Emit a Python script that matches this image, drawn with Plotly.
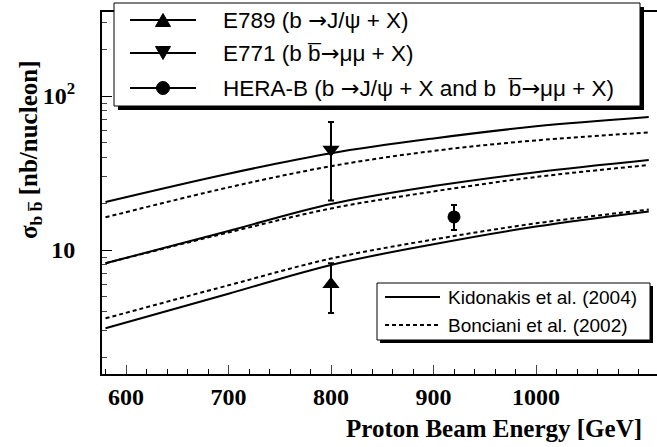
import plotly.graph_objects as go

# ---------------- data ----------------
energy = [580, 700, 800, 900, 1000, 1110]
kid_high = [20.5, 31.3, 42.5, 53, 63.5, 73]
bon_high = [16.3, 25.5, 35, 44, 51.5, 58]
kid_mid = [8.2, 13.3, 19.9, 26, 32, 38.4]
bon_mid = [8.2, 13.0, 18.6, 24, 29.8, 35.6]
kid_low = [3.1, 5.2, 8.0, 10.9, 14.2, 17.8]
bon_low = [3.6, 5.9, 8.8, 11.7, 14.9, 18.3]

e789_x, e789_y, e789_up, e789_dn = [800], [6.0], [2.2], [2.1]
e771_x, e771_y, e771_up, e771_dn = [800], [45.0], [22.8], [24.0]
herab_x, herab_y, herab_up, herab_dn = [920], [16.4], [3.2], [2.9]

ARW = "<span style='font-family:DejaVu Sans'>\u2192</span>"
exp_labels = ["E789 (b " + ARW + "J/\u03c8 + X)",
              "E771 (b b\u0305" + ARW + "\u03bc\u03bc + X)",
              "HERA-B (b " + ARW + "J/\u03c8 + X and b  b\u0305" + ARW + "\u03bc\u03bc + X)"]
theory_labels = ["Kidonakis et al. (2004)", "Bonciani et al. (2002)"]
x_ticks = [600, 700, 800, 900, 1000]
y_major = [10, 100]
y_major_text = ["10", "10<sup>2</sup>"]
y_minor = [2, 3, 4, 5, 6, 7, 8, 9, 20, 30, 40, 50, 60, 70, 80, 90, 200, 300]

# ---------------- layout geometry (pixels) ----------------
W, H = 657, 447
L, R, T, B = 102, 0, 12, 73
PW, PH = W - L - R, H - T - B

def px(x):
    return (x - L) / PW

def py(y):
    return (H - B - y) / PH

fig = go.Figure()

line_w = 2
for ys in (kid_high, kid_mid, kid_low):
    fig.add_trace(go.Scatter(x=energy, y=ys, mode="lines", line_shape="spline",
                             line=dict(color="black", width=line_w), showlegend=False))
for ys in (bon_high, bon_mid, bon_low):
    fig.add_trace(go.Scatter(x=energy, y=ys, mode="lines", line_shape="spline",
                             line=dict(color="black", width=line_w, dash="4px,3px"),
                             showlegend=False))

def point(xs, ys, up, dn, sym, size):
    fig.add_trace(go.Scatter(
        x=xs, y=ys, mode="markers",
        marker=dict(symbol=sym, size=size, color="black"),
        error_y=dict(type="data", symmetric=False, array=up, arrayminus=dn,
                     color="black", thickness=2, width=3),
        showlegend=False))

point(e789_x, e789_y, e789_up, e789_dn, "triangle-up", 15)
point(e771_x, e771_y, e771_up, e771_dn, "triangle-down", 15)
point(herab_x, herab_y, herab_up, herab_dn, "circle", 13)

shapes = []
annotations = []

def box(x0, y0, x1, y1, sh):
    shapes.append(dict(type="rect", xref="paper", yref="paper",
                       x0=px(x0 + sh), x1=px(x1 + sh), y0=py(y1 + sh), y1=py(y0 + sh),
                       fillcolor="black", line=dict(width=0), layer="above"))
    shapes.append(dict(type="rect", xref="paper", yref="paper",
                       x0=px(x0), x1=px(x1), y0=py(y1), y1=py(y0),
                       fillcolor="white", line=dict(color="black", width=1), layer="above"))

box(114, 3, 640, 106, 4)
box(377, 283, 650, 340, 3)

# legend 1 entries
leg1_y = [20, 53, 88]
mx = 163
for yy, lab in zip(leg1_y, exp_labels):
    shapes.append(dict(type="line", xref="paper", yref="paper",
                       x0=px(130), x1=px(196), y0=py(yy), y1=py(yy),
                       line=dict(color="black", width=2), layer="above"))
    annotations.append(dict(xref="paper", yref="paper", x=px(221), y=py(yy),
                            xanchor="left", yanchor="middle", showarrow=False, text=lab,
                            font=dict(family="Liberation Sans", size=22.5, color="black")))

def tri(cx, cy, up):
    h = 6.5
    w = 7.5
    if up:
        pts = [(cx - w, cy + h), (cx + w, cy + h), (cx, cy - h)]
    else:
        pts = [(cx - w, cy - h), (cx + w, cy - h), (cx, cy + h)]
    path = "M " + " L ".join(f"{px(a):.5f},{py(b):.5f}" for a, b in pts) + " Z"
    shapes.append(dict(type="path", xref="paper", yref="paper", path=path,
                       fillcolor="black", line=dict(color="black", width=1), layer="above"))

tri(mx, leg1_y[0], True)
tri(mx, leg1_y[1], False)
r = 6.5
shapes.append(dict(type="circle", xref="paper", yref="paper",
                   x0=px(mx - r), x1=px(mx + r), y0=py(leg1_y[2] + r), y1=py(leg1_y[2] - r),
                   fillcolor="black", line=dict(color="black", width=1), layer="above"))

# legend 2 entries
leg2_y = [297, 325]
for yy, lab, dash in zip(leg2_y, theory_labels, ["solid", "4px,3px"]):
    shapes.append(dict(type="line", xref="paper", yref="paper",
                       x0=px(385), x1=px(440), y0=py(yy), y1=py(yy),
                       line=dict(color="black", width=2, dash=dash), layer="above"))
    annotations.append(dict(xref="paper", yref="paper", x=px(446), y=py(yy),
                            xanchor="left", yanchor="middle", showarrow=False, text=lab,
                            font=dict(family="Liberation Sans", size=19, color="black")))

# axis titles
annotations.append(dict(xref="paper", yref="paper", x=px(494), y=py(428),
                        xanchor="center", yanchor="middle", showarrow=False,
                        text="<b>Proton Beam Energy [GeV]</b>",
                        font=dict(family="Liberation Serif", size=25, color="black")))
annotations.append(dict(xref="paper", yref="paper", x=px(30), y=py(150),
                        xanchor="center", yanchor="middle", showarrow=False, textangle=-90,
                        text="<b>\u03c3<sub>b b\u0305</sub> [nb/nucleon]</b>",
                        font=dict(family="Liberation Serif", size=25, color="black")))

x_range = [800 - (331 - L) / 1.025, 800 + (W - 331) / 1.025]
y_range = [1 - (H - B - 250) / 154, 1 + (250 - T) / 154]

y_vals = y_major + y_minor
y_text = ["<b>" + t + "</b>" for t in y_major_text] + [""] * len(y_minor)

fig.update_layout(
    width=W, height=H,
    margin=dict(l=L, r=R, t=T, b=B),
    paper_bgcolor="white", plot_bgcolor="white",
    shapes=shapes, annotations=annotations,
    xaxis=dict(range=x_range, tickvals=x_ticks, ticks="inside", ticklen=9, tickwidth=1,
               showline=True, linecolor="black", linewidth=2, mirror=True,
               showgrid=False, zeroline=False,
               tickfont=dict(family="Liberation Serif", size=24, color="black", weight="bold"),
               minor=dict(dtick=20, ticks="inside", ticklen=5, tickcolor="black", showgrid=False)),
    yaxis=dict(type="log", range=y_range, tickvals=y_vals, ticktext=y_text,
               ticks="inside", ticklen=5, tickwidth=1, ticklabelstandoff=20,
               showline=True, linecolor="black", linewidth=2, mirror=False,
               showgrid=False, zeroline=False,
               tickfont=dict(family="Liberation Serif", size=24, color="black", weight="bold")),
    yaxis3=dict(type="log", range=y_range, overlaying="y", tickvals=y_major,
                ticks="inside", ticklen=10, tickwidth=1, tickcolor="black",
                showticklabels=False, showline=False, showgrid=False, zeroline=False),
)
fig.add_trace(go.Scatter(x=[energy[0]], y=[kid_mid[0]], yaxis="y3", mode="markers",
                         marker=dict(opacity=0), showlegend=False, hoverinfo="skip"))

fig.write_html("out.html", config={"displayModeBar": False},
               post_script="document.body.style.margin='0px';document.body.style.overflow='hidden';")
